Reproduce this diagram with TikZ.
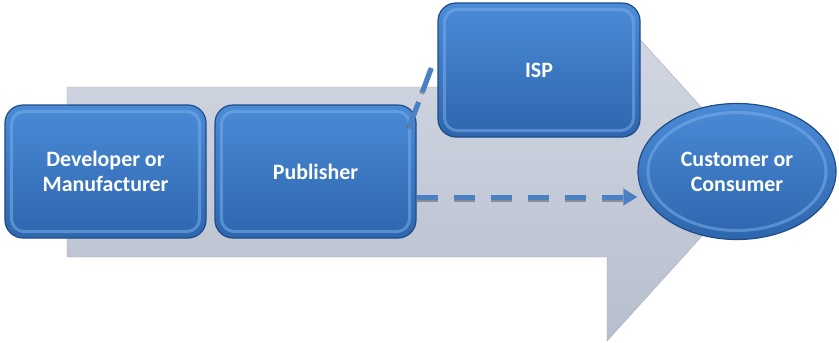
\documentclass[tikz,border=0pt]{standalone}
\usepackage{fontspec}
\setmainfont{Carlito}
\usetikzlibrary{arrows.meta,shapes.geometric,calc}
\definecolor{boxtop}{HTML}{4A8BD6}
\definecolor{boxbot}{HTML}{2E66AD}
\definecolor{boxedge}{HTML}{1F4C88}
\definecolor{boxhi}{HTML}{79AEEA}
\definecolor{arrtop}{HTML}{D4D9E4}
\definecolor{arrbot}{HTML}{B7BECD}
\definecolor{dashcol}{HTML}{4A80C4}
\tikzset{
  stagebox/.style={rectangle, rounded corners=18bp, minimum width=201bp, minimum height=133bp,
    top color=boxtop, bottom color=boxbot, draw=boxedge, line width=1.2bp,
    text=white, align=center, font=\fontsize{22}{25}\selectfont\bfseries, inner sep=0pt},
  stageoval/.style={ellipse, minimum width=198bp, minimum height=136bp,
    top color=boxtop, bottom color=boxbot, draw=boxedge, line width=1.2bp,
    text=white, align=center, font=\fontsize{22}{25}\selectfont\bfseries, inner sep=0pt},
  bevel/.style={draw=boxhi, line width=3bp, opacity=0.55, rounded corners=13bp},
  flowdash/.style={draw=dashcol, line width=5bp},
  flowshadow/.style={draw=black!60, line width=5bp, opacity=0.6},
}
\begin{document}
\begin{tikzpicture}[x=1bp,y=-1bp]
\useasboundingbox (0,0) rectangle (839,342);
% big background arrow
\path[top color=arrtop, bottom color=arrbot, draw=arrbot!90!black, line width=0.4bp]
  (67,87) -- (607,87) -- (607,3) -- (760,172) -- (607,341) -- (607,257) -- (67,257) -- cycle;
% stages
\node[stagebox] (dev) at (105.5,171.5) {Developer or\\Manufacturer};
\node[stagebox] (pub) at (315.5,171.5) {Publisher};
\node[stagebox, minimum width=202bp, minimum height=134bp] (isp) at (539,70) {ISP};
\node[stageoval] (cust) at (737,171.5) {Customer or\\Consumer};
% bevel highlights
\foreach \n in {dev,pub,isp}{
  \draw[bevel] ([shift={(7,7)}]\n.north west) rectangle ([shift={(-7,-7)}]\n.south east);
}
\draw[draw=boxhi, line width=3bp, opacity=0.55] (cust.center) ellipse [x radius=89, y radius=59];
% dashed connectors
\draw[flowshadow, dash pattern=on 21bp off 16bp, shorten >=8bp]
  ([yshift=-28bp]pub.east) -- ([yshift=-28bp]pub.east -| cust.west);
\draw[flowdash, dash pattern=on 21bp off 16bp, -{Triangle[width=16bp,length=14bp]}]
  ([yshift=-25.5bp]pub.east) -- ([yshift=-25.5bp]pub.east -| cust.west);
\coordinate (ispin) at ([xshift=-6bp,yshift=2bp]isp.west);
\coordinate (pubout) at ([shift={(-7,22)}]pub.north east);
\draw[flowshadow, dash pattern=on 26bp off 11bp]
  ([shift={(-1,2)}]pubout) -- ([shift={(-1,2)}]ispin);
\draw[flowdash, dash pattern=on 26bp off 11bp]
  (pubout) -- (ispin);
\end{tikzpicture}
\end{document}
